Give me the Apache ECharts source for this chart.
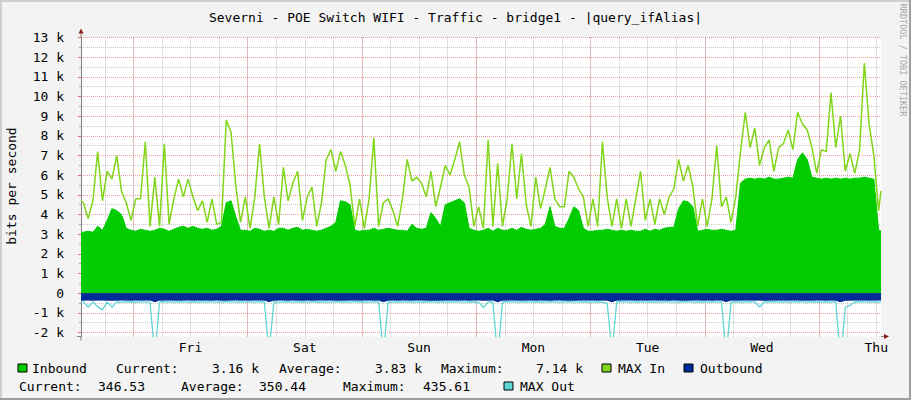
<!DOCTYPE html>
<html><head><meta charset="utf-8">
<script src="https://cdn.jsdelivr.net/npm/echarts@6/dist/echarts.min.js"></script>
<style>html,body{margin:0;padding:0;background:#f3f3f3}#chart{width:911px;height:400px}</style>
</head><body><div id="chart"></div>
<script>
// ---------------- data ----------------
const chartTitle = 'Severni - POE Switch WIFI - Traffic - bridge1 - |query_ifAlias|';
const yAxisTitle = 'bits per second';
const dayLabels = ['Fri', 'Sat', 'Sun', 'Mon', 'Tue', 'Wed', 'Thu'];
const windowStartHour = 13;   // graph starts Thu 13:00
const windowHours = 168;      // one week

// hourly values (hour 0 = Thu 13:00 .. 14:00), in k bits/s
const inboundK = [
  3.1,3.15,3.1,3.4,3.2,3.7,4.3,4.2,4.0,3.3,
  3.2,3.15,3.25,3.2,3.15,3.2,3.3,3.25,3.15,3.25,
  3.35,3.4,3.3,3.4,3.3,3.25,3.3,3.2,3.25,3.4,
  4.6,4.7,3.9,3.2,3.2,3.15,3.3,3.25,3.15,3.2,
  3.15,3.3,3.3,3.2,3.3,3.35,3.2,3.25,3.2,3.15,
  3.2,3.3,3.4,3.6,4.7,4.65,4.5,3.2,3.15,3.2,
  3.2,3.3,3.2,3.25,3.3,3.25,3.2,3.2,3.15,3.5,
  3.3,3.25,3.3,4.1,3.8,3.4,4.5,4.6,4.7,4.8,
  4.6,3.3,3.2,3.15,3.2,3.3,3.15,3.3,3.2,3.2,
  3.3,3.2,3.35,3.25,3.2,3.25,3.3,3.5,4.4,3.4,
  3.3,3.3,3.8,4.4,4.2,3.3,3.15,3.15,3.2,3.2,
  3.25,3.2,3.15,3.2,3.15,3.2,3.15,3.15,3.25,3.15,
  3.25,3.2,3.3,3.35,3.35,4.3,4.7,4.65,4.4,3.15,
  3.2,3.25,3.2,3.2,3.25,3.2,3.15,3.2,5.6,5.8,
  5.85,5.8,5.85,5.8,5.9,5.8,5.8,5.85,5.9,5.85,
  6.8,7.14,6.8,5.9,5.85,5.8,5.85,5.8,5.85,5.8,
  5.85,5.8,5.85,5.85,5.9,5.85,5.8,3.2
];
const inboundEdgesK = [3.1, 3.16];

const maxInK = [
  4.6,3.8,4.7,7.2,4.7,6.2,5.8,7.0,5.2,4.6,
  3.7,4.8,4.8,7.7,3.4,5.9,3.4,7.6,3.5,4.8,
  5.8,4.9,5.8,4.9,4.2,4.7,3.6,4.8,3.5,3.6,
  8.8,8.2,5.5,3.6,4.9,3.3,4.9,7.6,4.9,3.3,
  4.9,3.5,6.4,4.7,5.6,6.2,3.7,4.9,5.4,3.4,
  4.6,6.8,7.3,6.2,7.2,6.5,5.5,3.4,4.8,3.3,
  4.8,7.9,3.4,4.6,4.8,4.2,3.4,4.8,6.8,5.7,
  5.9,5.6,4.9,6.2,4.4,5.4,6.5,6.0,6.8,7.7,
  6.0,5.4,3.4,4.4,3.3,7.8,3.4,6.6,3.4,4.8,
  7.6,4.8,7.1,4.5,3.4,5.9,4.3,5.3,6.4,4.8,
  4.4,4.4,6.2,5.9,5.3,4.9,3.4,4.8,3.4,7.7,
  4.9,3.4,4.8,3.3,4.8,3.4,4.8,6.2,3.7,4.8,
  3.5,4.8,4.0,4.9,5.3,6.8,5.7,6.5,5.4,3.4,
  4.8,3.4,4.8,7.5,4.4,4.9,3.6,4.9,7.2,9.2,
  7.4,8.4,6.5,7.4,7.8,6.2,7.4,7.6,8.3,7.3,
  9.2,8.6,8.3,7.4,6.1,7.3,7.2,10.2,7.4,9.0,
  6.2,7.1,6.1,7.3,11.7,8.6,7.0,4.2
];
const maxInEdgesK = [4.7, 5.2];

// outbound, bits/s (drawn below zero)
const outbound = [
  352,348,355,350,349,353,356,351,347,350,352,349,
  351,348,350,430,352,349,347,351,354,350,348,352,
  350,353,349,351,348,352,355,350,347,351,349,352,
  350,348,351,425,353,349,350,352,348,351,354,349,
  352,350,347,351,349,353,356,352,348,350,351,349,
  350,352,348,428,351,349,353,350,347,352,350,348,
  351,353,356,354,352,350,349,351,348,352,350,347,
  360,351,349,435,352,350,348,351,353,349,350,352,
  348,351,354,350,349,352,353,355,351,348,350,349,
  352,350,356,432,351,349,347,350,352,348,351,349,
  350,353,349,351,348,352,354,356,350,347,351,349,
  352,350,348,430,349,351,352,350,348,351,349,358,
  351,349,353,350,352,348,350,353,355,351,349,350,
  352,348,351,433,358,352,349,350,348,351,349,347
];
const outboundEdges = [350, 347];

const maxOut = [
  440,700,445,680,850,450,720,440,455,430,445,460,
  440,435,450,3200,445,430,440,455,445,430,450,440,
  445,450,430,440,455,445,430,440,450,445,435,440,
  450,430,445,3000,440,455,445,430,450,440,445,455,
  430,445,440,455,450,430,445,440,455,430,445,440,
  450,440,430,3100,445,450,440,455,430,445,450,440,
  445,430,450,440,455,445,430,440,450,445,440,455,
  730,440,450,3300,445,430,440,455,445,430,450,440,
  445,450,430,440,455,445,430,440,450,445,440,455,
  440,450,520,3000,445,430,440,455,445,430,450,440,
  445,450,430,440,455,445,430,440,450,445,440,455,
  440,450,430,3200,445,440,455,445,430,450,700,440,
  445,430,450,440,455,445,430,440,450,445,440,455,
  440,450,430,3400,700,620,445,430,440,455,445,440
];
const maxOutEdges = [440, 440];

const seriesNames = ['Inbound', 'MAX In', 'Outbound', 'MAX Out'];
const inboundStats = ['3.16 k', '3.83 k', '7.14 k'];
const outboundStats = ['346.53', '350.44', '435.61'];

// ---------------- layout / style ----------------
const FONT = '"DejaVu Sans Mono", monospace';
const C_IN = '#00CC00', C_MAXIN = '#80D61A', C_OUT = '#002A97', C_MAXOUT = '#5ED6D6';
const MGRID = 'rgba(222,80,80,0.55)', GRID = 'rgba(143,143,143,0.5)';
const L = 81, W = 800, T = 37.5, H = 299;
const yTop = 13000, yBottom = -2200, yGridBottom = -2000;
const pxPerUnit = H / (yTop - yBottom);
const pxH = W / windowHours;

// sample times: each hourly value sits mid-hour, plus the window edges
const sampleTimes = [0];
for (let i = 0; i < inboundK.length; i++) sampleTimes.push(i + 0.5);
sampleTimes.push(windowHours);

function withEdges(arr, edges) { return [edges[0]].concat(arr, [edges[1]]); }
function pairs(vals, scale) { return sampleTimes.map((t, i) => [t, vals[i] * scale]); }

const inboundData = pairs(withEdges(inboundK, inboundEdgesK), 1000);
const maxInData = pairs(withEdges(maxInK, maxInEdgesK), 1000);
const outboundData = pairs(withEdges(outbound, outboundEdges), -1);
const maxOutData = pairs(withEdges(maxOut, maxOutEdges), -1);

const first6h = (6 - windowStartHour % 6) % 6;
const firstMidnight = (24 - windowStartHour) % 24;
const firstNoon = (36 - windowStartHour) % 24;
const span6 = Math.floor((windowHours - first6h) / 6) * 6;
const spanMid = Math.floor((windowHours - firstMidnight) / 24) * 24;
const spanNoon = Math.floor((windowHours - firstNoon) / 24) * 24;

const hiddenY = (gi) => ({ gridIndex: gi, type: 'value', min: yBottom, max: yTop, show: false });

const option = {
  backgroundColor: '#f3f3f3',
  animation: false,
  textStyle: { fontFamily: FONT },
  title: {
    text: chartTitle, left: 'center', top: 6,
    textStyle: { fontFamily: FONT, fontSize: 13, fontWeight: 'normal', color: '#000' }
  },
  grid: [
    { left: L, top: T, width: W, height: H, outerBoundsMode: 'none' },
    { left: L, top: T, width: W, height: (yTop - yGridBottom) * pxPerUnit, outerBoundsMode: 'none' },
    { left: L + first6h * pxH, top: T, width: span6 * pxH, height: H, outerBoundsMode: 'none' },
    { left: L + firstMidnight * pxH, top: T, width: spanMid * pxH, height: H, outerBoundsMode: 'none' },
    { left: L + firstNoon * pxH, top: T, width: spanNoon * pxH, height: H, outerBoundsMode: 'none' }
  ],
  xAxis: [
    { gridIndex: 0, type: 'value', min: 0, max: windowHours,
      axisLine: { show: true, lineStyle: { color: '#808080', width: 1 } },
      axisTick: { show: false }, axisLabel: { show: false }, splitLine: { show: false } },
    { gridIndex: 1, type: 'value', min: 0, max: 1, show: false },
    { gridIndex: 2, type: 'value', min: 0, max: span6, interval: 6,
      axisLine: { show: false }, axisLabel: { show: false },
      axisTick: { show: true, length: 2, lineStyle: { color: '#999' } },
      splitLine: { show: true, lineStyle: { color: GRID, type: [1, 1], width: 1 } } },
    { gridIndex: 3, type: 'value', min: 0, max: spanMid, interval: 24,
      axisLine: { show: false }, axisLabel: { show: false },
      axisTick: { show: true, length: 3, lineStyle: { color: 'rgba(222,80,80,0.8)' } },
      splitLine: { show: true, lineStyle: { color: MGRID, type: [1, 1], width: 1 } } },
    { gridIndex: 4, type: 'value', min: 0, max: spanNoon, interval: 24,
      axisLine: { show: false }, axisTick: { show: false }, splitLine: { show: false },
      axisLabel: { show: true, margin: 4, fontFamily: FONT, fontSize: 13, color: '#000',
        showMinLabel: true, showMaxLabel: true, hideOverlap: false,
        formatter: (v) => dayLabels[Math.round(v / 24)] } }
  ],
  yAxis: [
    { gridIndex: 0, type: 'value', min: yBottom, max: yTop,
      axisLine: { show: true, lineStyle: { color: '#808080', width: 1 } },
      axisTick: { show: false }, axisLabel: { show: false }, splitLine: { show: false } },
    { gridIndex: 1, type: 'value', min: yGridBottom, max: yTop, interval: 1000,
      axisLine: { show: false },
      axisTick: { show: true, length: 3, lineStyle: { color: 'rgba(222,80,80,0.8)' } },
      minorTick: { show: true, splitNumber: 2, length: 2, lineStyle: { color: '#aaa' } },
      axisLabel: { margin: 9, padding: [0, 8, 0, 0], fontFamily: FONT, fontSize: 13, color: '#000',
        formatter: (v) => v === 0 ? '0' : (v / 1000) + ' k' },
      splitLine: { show: true, lineStyle: { color: MGRID, type: [1, 1], width: 1 } },
      minorSplitLine: { show: true, lineStyle: { color: GRID, type: [1, 1], width: 1 } } },
    hiddenY(2), hiddenY(3), hiddenY(4)
  ],
  series: [
    { name: seriesNames[0], type: 'line', data: inboundData, showSymbol: false, symbol: 'none',
      lineStyle: { color: C_IN, width: 1 }, areaStyle: { color: C_IN, opacity: 1 }, z: 2 },
    { name: seriesNames[1], type: 'line', data: maxInData, showSymbol: false, symbol: 'none',
      lineStyle: { color: C_MAXIN, width: 1.5 }, z: 3 },
    { name: seriesNames[3], type: 'line', data: maxOutData, showSymbol: false, symbol: 'none',
      lineStyle: { color: C_MAXOUT, width: 1.3 }, z: 3 },
    { name: seriesNames[2], type: 'line', data: outboundData, showSymbol: false, symbol: 'none',
      lineStyle: { color: C_OUT, width: 1 }, areaStyle: { color: C_OUT, opacity: 1 }, z: 4 }
  ],
  graphic: { elements: [] }
};

const plotBottom = T + H;
const els = option.graphic.elements;
// canvas and frame
els.push({ type: 'rect', z: -10, shape: { x: L, y: T, width: W, height: H }, style: { fill: '#ffffff' } });
els.push({ type: 'rect', shape: { x: 0, y: 0, width: 911, height: 2 }, style: { fill: '#cfcfcf' } });
els.push({ type: 'rect', shape: { x: 0, y: 0, width: 2, height: 400 }, style: { fill: '#cfcfcf' } });
els.push({ type: 'rect', shape: { x: 909, y: 0, width: 2, height: 400 }, style: { fill: '#9e9e9e' } });
els.push({ type: 'rect', shape: { x: 0, y: 398, width: 911, height: 2 }, style: { fill: '#9e9e9e' } });
// axis extensions and arrows
els.push({ type: 'line', shape: { x1: L, y1: T, x2: L, y2: T - 4 }, style: { stroke: '#808080', lineWidth: 1 } });
els.push({ type: 'line', shape: { x1: L, y1: plotBottom, x2: L, y2: plotBottom + 4 }, style: { stroke: '#808080', lineWidth: 1 } });
els.push({ type: 'line', shape: { x1: L - 4, y1: plotBottom, x2: L, y2: plotBottom }, style: { stroke: '#808080', lineWidth: 1 } });
els.push({ type: 'line', shape: { x1: L + W, y1: plotBottom, x2: L + W + 3, y2: plotBottom }, style: { stroke: '#808080', lineWidth: 1 } });
els.push({ type: 'polygon', shape: { points: [[L - 2.5, T - 4], [L + 2.5, T - 4], [L, T - 9]] }, style: { fill: '#8b1a1a' } });
els.push({ type: 'polygon', shape: { points: [[L + W + 3, plotBottom - 2.5], [L + W + 3, plotBottom + 2.5], [L + W + 8, plotBottom]] }, style: { fill: '#8b1a1a' } });
// vertical axis title
els.push({ type: 'text', x: 11, y: 186, rotation: Math.PI / 2,
  style: { text: yAxisTitle, fontFamily: FONT, fontSize: 13, fill: '#000', align: 'center', verticalAlign: 'middle' } });
// watermark
els.push({ type: 'text', x: 902.5, y: 60, rotation: -Math.PI / 2,
  style: { text: 'RRDTOOL / TOBI OETIKER', fontFamily: FONT, fontSize: 8.5, fill: '#a8a8a8', align: 'center', verticalAlign: 'middle' } });

// legend
function swatch(x, y, color) {
  els.push({ type: 'rect', shape: { x: x, y: y, width: 9, height: 8 }, style: { fill: color, stroke: '#000', lineWidth: 1 } });
}
function txt(x, y, s, align) {
  els.push({ type: 'text', x: x, y: y, style: { text: s, fontFamily: FONT, fontSize: 13, fill: '#000', align: align || 'left', verticalAlign: 'middle' } });
}
const r1 = 368, r2 = 386;
swatch(18, r1 - 4, C_IN);
txt(32, r1, seriesNames[0]);
txt(116, r1, 'Current:'); txt(212, r1, inboundStats[0]);
txt(279, r1, 'Average:'); txt(375, r1, inboundStats[1]);
txt(441, r1, 'Maximum:'); txt(536, r1, inboundStats[2]);
swatch(602, r1 - 4, C_MAXIN); txt(618, r1, seriesNames[1]);
swatch(684, r1 - 4, C_OUT); txt(700, r1, seriesNames[2]);
txt(19, r2, 'Current:'); txt(98, r2, outboundStats[0]);
txt(181, r2, 'Average:'); txt(259, r2, outboundStats[1]);
txt(343, r2, 'Maximum:'); txt(423, r2, outboundStats[2]);
swatch(504, r2 - 4, C_MAXOUT); txt(520, r2, seriesNames[3]);

const chart = echarts.init(document.getElementById('chart'), null, { renderer: 'svg' });
chart.setOption(option);
</script>
</body></html>
